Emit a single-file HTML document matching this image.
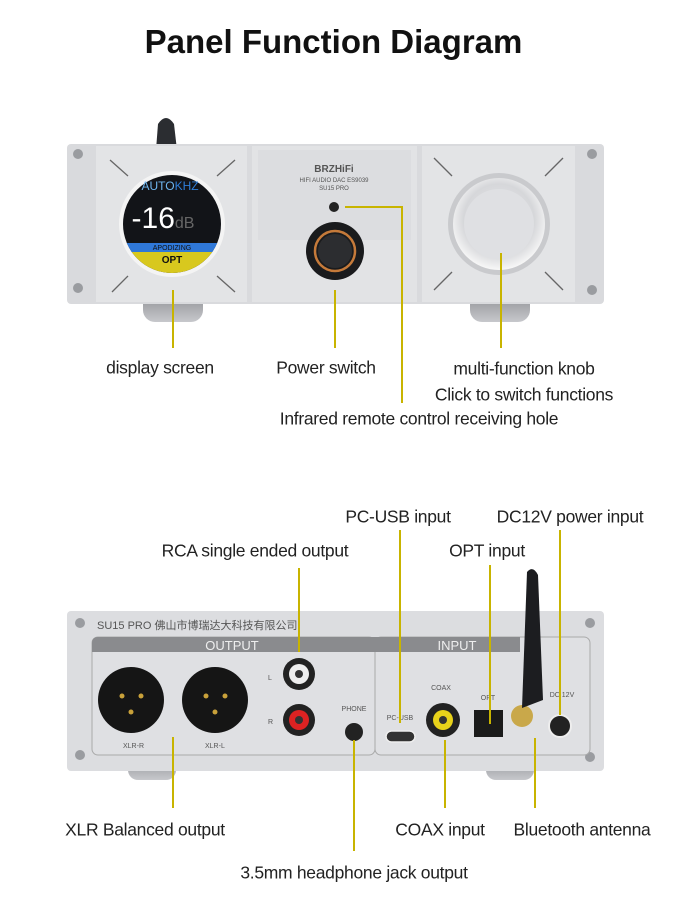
<!DOCTYPE html>
<html><head><meta charset="utf-8"><style>
body{margin:0;width:700px;height:901px;background:#fff;position:relative;overflow:hidden;font-family:"Liberation Sans",sans-serif}
.t{position:absolute;font-size:17.5px;color:#222;white-space:nowrap;transform:translate(-50%,-50%);letter-spacing:-0.3px}
h1{position:absolute;left:0;width:667px;text-align:center;top:23px;margin:0;font-size:33px;font-weight:bold;color:#111}
svg{position:absolute;left:0;top:0}
</style></head><body>
<h1>Panel Function Diagram</h1>
<svg width="700" height="901" viewBox="0 0 700 901">
<defs>
<radialGradient id="knob" cx="50%" cy="45%" r="55%"><stop offset="0" stop-color="#e8e8ea"/><stop offset="0.7" stop-color="#d6d7da"/><stop offset="1" stop-color="#f8f8f8"/></radialGradient>
<linearGradient id="foot" x1="0" y1="0" x2="0" y2="1"><stop offset="0" stop-color="#8a8c90"/><stop offset="1" stop-color="#c7c8cc"/></linearGradient>
</defs>
<!-- FRONT -->
<path d="M156 150 L158 124 Q166 112 174 124 L177 150Z" fill="#2b2d31"/>
<rect x="143" y="292" width="60" height="30" rx="12" fill="url(#foot)"/>
<rect x="470" y="292" width="60" height="30" rx="12" fill="url(#foot)"/>
<rect x="67" y="144" width="537" height="160" rx="4" fill="#d9dadd"/>
<rect x="96" y="146" width="151" height="156" fill="#e3e4e6"/>
<rect x="252" y="146" width="165" height="156" fill="#e2e3e5"/>
<rect x="258" y="150" width="153" height="90" fill="#dcdde0"/>
<rect x="422" y="146" width="153" height="156" fill="#e3e4e6"/>
<circle cx="78" cy="154" r="5" fill="#9a9ca0"/><circle cx="78" cy="288" r="5" fill="#9a9ca0"/>
<circle cx="592" cy="154" r="5" fill="#9a9ca0"/><circle cx="592" cy="290" r="5" fill="#9a9ca0"/>
<g stroke="#666" stroke-width="1.3">
<line x1="110" y1="160" x2="128" y2="176"/><line x1="235" y1="160" x2="217" y2="176"/>
<line x1="112" y1="292" x2="128" y2="276"/><line x1="235" y1="292" x2="217" y2="276"/>
<line x1="434" y1="158" x2="452" y2="176"/><line x1="563" y1="158" x2="545" y2="176"/>
<line x1="434" y1="290" x2="452" y2="272"/><line x1="563" y1="290" x2="545" y2="272"/>
</g>
<circle cx="172" cy="224" r="53" fill="#f4f4f4"/>
<clipPath id="dc"><circle cx="172" cy="224" r="49"/></clipPath>
<g clip-path="url(#dc)">
<rect x="120" y="170" width="110" height="110" fill="#121418"/>
<rect x="120" y="243" width="110" height="9" fill="#2f78d8"/>
<rect x="120" y="252" width="110" height="30" fill="#d8c81e"/>
</g>
<text x="170" y="190" font-size="12" fill="#6fb6ef" text-anchor="middle" font-family="Liberation Sans">AUTO<tspan fill="#2f7fd8">KHZ</tspan></text>
<text x="163" y="228" font-size="30" fill="#fff" text-anchor="middle" font-family="Liberation Sans">-16<tspan font-size="16" fill="#666">dB</tspan></text>
<text x="172" y="250" font-size="7" fill="#111" text-anchor="middle">APODIZING</text>
<text x="172" y="263" font-size="10" font-weight="bold" fill="#111" text-anchor="middle">OPT</text>
<text x="334" y="172" font-size="10" font-weight="bold" fill="#555" text-anchor="middle">BRZHiFi</text>
<text x="334" y="182" font-size="6" fill="#555" text-anchor="middle">HIFI AUDIO DAC ES9039</text>
<text x="334" y="190" font-size="6" fill="#555" text-anchor="middle">SU15 PRO</text>
<circle cx="334" cy="207" r="5" fill="#222"/>
<circle cx="335" cy="251" r="29" fill="#1a1b1d"/>
<circle cx="335" cy="251" r="20" fill="none" stroke="#c57a3a" stroke-width="2.5"/>
<circle cx="335" cy="251" r="17" fill="#2c2d30"/>
<circle cx="499" cy="224" r="51" fill="#c9cacd"/>
<circle cx="499" cy="224" r="46" fill="url(#knob)"/>
<circle cx="499" cy="224" r="35" fill="#dfe0e3"/>
<g stroke="#c8b400" stroke-width="2" fill="none">
<line x1="173" y1="290" x2="173" y2="348"/>
<line x1="335" y1="290" x2="335" y2="348"/>
<polyline points="345,207 402,207 402,403"/>
<line x1="501" y1="253" x2="501" y2="348"/>
</g>
<!-- BACK -->
<rect x="128" y="755" width="48" height="25" rx="10" fill="url(#foot)"/>
<rect x="486" y="755" width="48" height="25" rx="10" fill="url(#foot)"/>
<rect x="67" y="611" width="537" height="160" rx="4" fill="#dcdde0"/>
<circle cx="80" cy="623" r="5" fill="#9a9ca0"/><circle cx="80" cy="755" r="5" fill="#9a9ca0"/>
<circle cx="590" cy="623" r="5" fill="#9a9ca0"/><circle cx="590" cy="757" r="5" fill="#9a9ca0"/>
<text x="97" y="629" font-size="11" fill="#555" font-family="Liberation Sans, Noto Sans CJK SC, sans-serif">SU15 PRO 佛山市博瑞达大科技有限公司</text>
<rect x="92" y="637" width="283" height="118" rx="6" fill="#dfe0e3" stroke="#aaa"/>
<rect x="375" y="637" width="215" height="118" rx="6" fill="#dfe0e3" stroke="#aaa"/>
<path d="M92 652 V643 Q92 637 98 637 H375 V652Z" fill="#8a8b8e"/>
<path d="M375 652 V637 H520 V652Z" fill="#8a8b8e"/>
<text x="232" y="650" font-size="13" fill="#eee" text-anchor="middle">OUTPUT</text>
<text x="457" y="650" font-size="13" fill="#eee" text-anchor="middle">INPUT</text>
<g>
<circle cx="131" cy="700" r="33" fill="#151515"/><circle cx="215" cy="700" r="33" fill="#151515"/>
<circle cx="122" cy="696" r="2.5" fill="#c9a13a"/><circle cx="141" cy="696" r="2.5" fill="#c9a13a"/><circle cx="131" cy="712" r="2.5" fill="#c9a13a"/>
<circle cx="206" cy="696" r="2.5" fill="#c9a13a"/><circle cx="225" cy="696" r="2.5" fill="#c9a13a"/><circle cx="215" cy="712" r="2.5" fill="#c9a13a"/>
<text x="123" y="748" font-size="7" fill="#555">XLR-R</text><text x="205" y="748" font-size="7" fill="#555">XLR-L</text>
<circle cx="299" cy="674" r="16" fill="#222"/><circle cx="299" cy="674" r="10" fill="#eee"/><circle cx="299" cy="674" r="4" fill="#333"/>
<circle cx="299" cy="720" r="16" fill="#222"/><circle cx="299" cy="720" r="10" fill="#d22"/><circle cx="299" cy="720" r="4" fill="#333"/>
<text x="268" y="680" font-size="7" fill="#555">L</text><text x="268" y="724" font-size="7" fill="#555">R</text>
<text x="354" y="711" font-size="7" fill="#555" text-anchor="middle">PHONE</text>
<circle cx="354" cy="732" r="9" fill="#222"/>
<text x="400" y="720" font-size="7" fill="#555" text-anchor="middle">PC-USB</text>
<rect x="386" y="731" width="29" height="11" rx="5.5" fill="#333" stroke="#eee" stroke-width="1.5"/>
<text x="441" y="690" font-size="7" fill="#555" text-anchor="middle">COAX</text>
<circle cx="443" cy="720" r="17" fill="#222"/><circle cx="443" cy="720" r="10" fill="#e8d21a"/><circle cx="443" cy="720" r="4" fill="#333"/>
<text x="488" y="700" font-size="7" fill="#555" text-anchor="middle">OPT</text>
<rect x="474" y="710" width="29" height="27" fill="#1b1b1b"/>
<text x="562" y="697" font-size="7" fill="#555" text-anchor="middle">DC 12V</text>
<circle cx="560" cy="726" r="11" fill="#222" stroke="#eee" stroke-width="2"/>
<circle cx="522" cy="716" r="11" fill="#c9a84a"/>
<path d="M527 572 Q533 565 538 575 L543 700 L522 708 Z" fill="#1c1d20"/>
</g>
<g stroke="#c8b400" stroke-width="2" fill="none">
<line x1="299" y1="568" x2="299" y2="652"/>
<line x1="400" y1="530" x2="400" y2="723"/>
<line x1="490" y1="565" x2="490" y2="724"/>
<line x1="560" y1="530" x2="560" y2="715"/>
<line x1="173" y1="737" x2="173" y2="808"/>
<line x1="354" y1="740" x2="354" y2="851"/>
<line x1="445" y1="740" x2="445" y2="808"/>
<line x1="535" y1="738" x2="535" y2="808"/>
</g>
</svg>
<div class="t" style="left:160px;top:368px">display screen</div>
<div class="t" style="left:326px;top:368px">Power switch</div>
<div class="t" style="left:524px;top:369px">multi-function knob</div>
<div class="t" style="left:524px;top:395px">Click to switch functions</div>
<div class="t" style="left:419px;top:419px">Infrared remote control receiving hole</div>
<div class="t" style="left:398px;top:517px">PC-USB input</div>
<div class="t" style="left:570px;top:517px">DC12V power input</div>
<div class="t" style="left:255px;top:551px">RCA single ended output</div>
<div class="t" style="left:487px;top:551px">OPT input</div>
<div class="t" style="left:145px;top:830px">XLR Balanced output</div>
<div class="t" style="left:440px;top:830px">COAX input</div>
<div class="t" style="left:582px;top:830px">Bluetooth antenna</div>
<div class="t" style="left:354px;top:873px">3.5mm headphone jack output</div>
</body></html>
